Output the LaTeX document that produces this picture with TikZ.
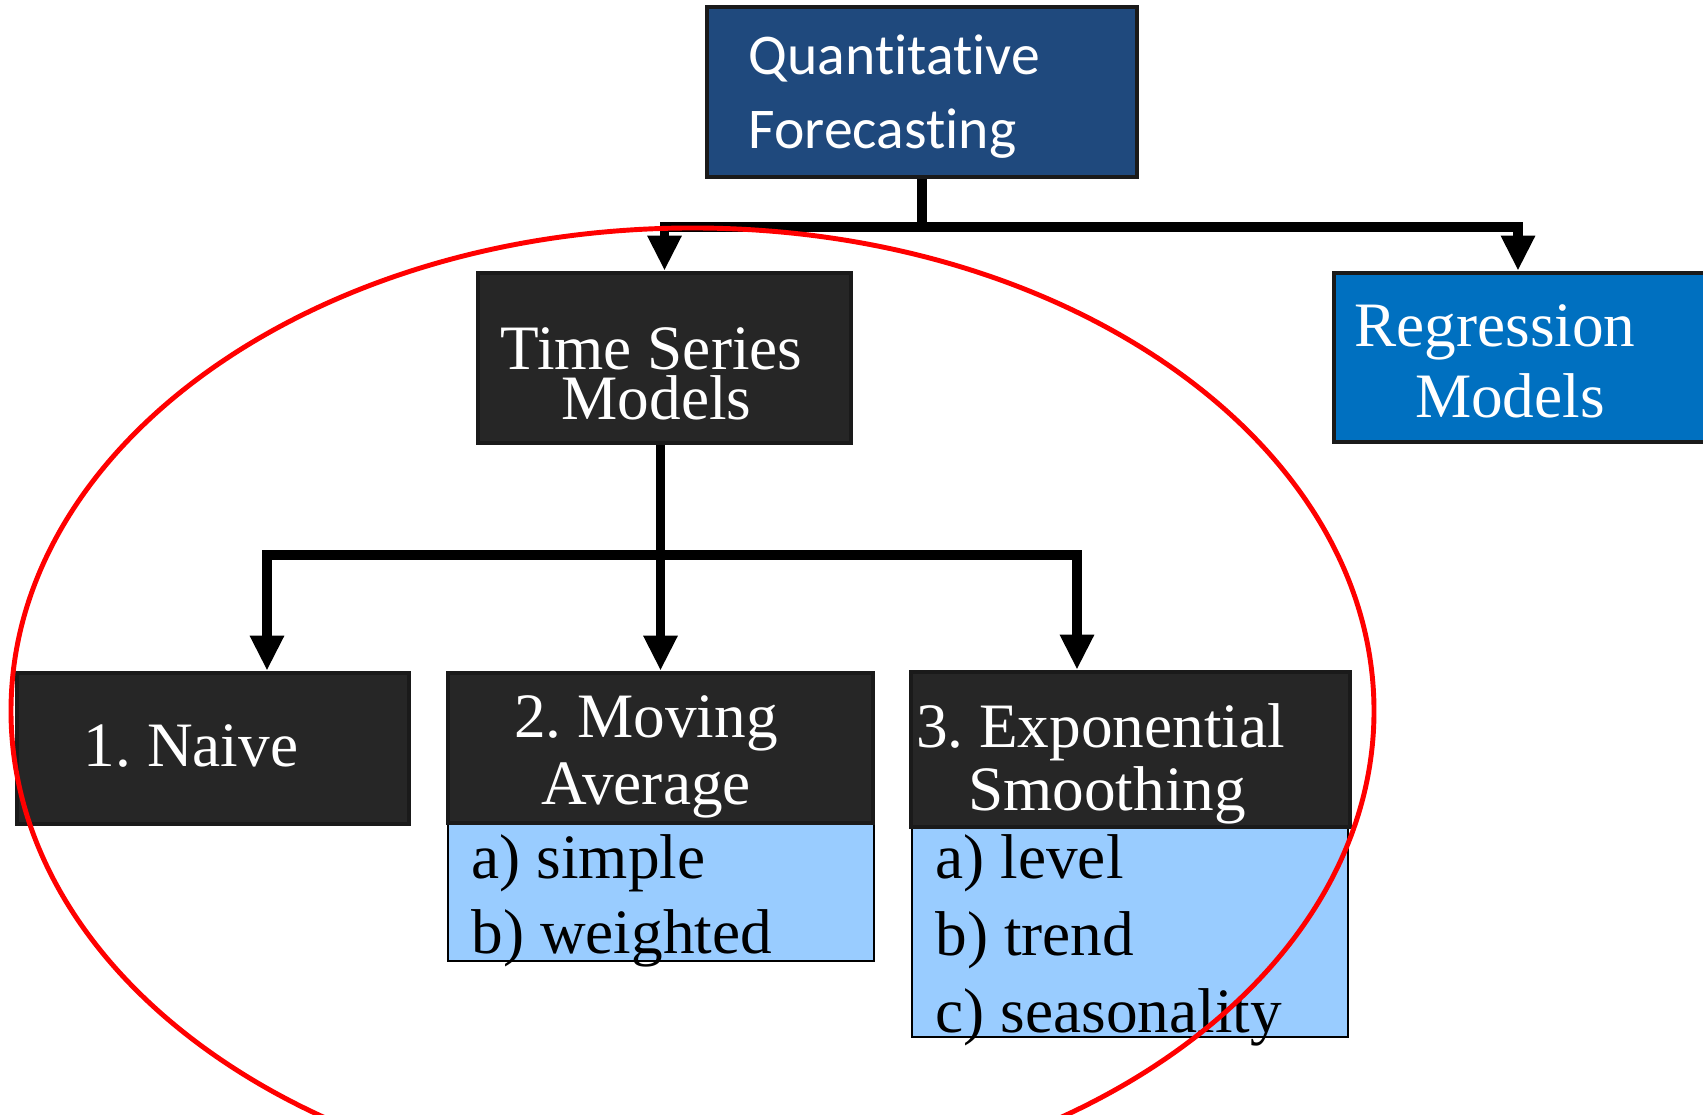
\documentclass[tikz,border=0pt]{standalone}
\usepackage{fontspec}
\setmainfont{Liberation Serif}
\newfontfamily\qffont[Ligatures=NoCommon]{Carlito}
\usetikzlibrary{arrows.meta}
\frenchspacing
\definecolor{qfblue}{RGB}{31,73,125}
\definecolor{tsgray}{RGB}{38,38,38}
\definecolor{rgblue}{RGB}{0,112,192}
\definecolor{listblue}{RGB}{153,204,255}
\definecolor{boxedge}{RGB}{26,26,26}
\tikzset{
  box/.style={draw=boxedge, line width=1.3pt, inner sep=0pt},
  listbox/.style={draw=black, line width=0.8pt, fill=listblue, inner sep=0pt},
  boxtext/.style={text=white, inner sep=0pt, align=center},
  listtext/.style={inner sep=0pt, align=left, anchor=west},
  conn/.style={line width=2.8pt},
  link/.style={line width=2.8pt, -{Triangle[length=0.35cm,width=0.32cm]}},
  fork/.style={line width=2.8pt, {Triangle[length=0.35cm,width=0.32cm]}-{Triangle[length=0.35cm,width=0.32cm]}}
}
\begin{document}
\begin{tikzpicture}
  \useasboundingbox (0,0) rectangle (17.03,11.15);
  %Top level
  \node[box, fill=qfblue, minimum width=4.30cm, minimum height=1.70cm] (qf) at (9.22,10.23) {};
  \node[boxtext, anchor=west, align=left, font=\qffont\fontsize{16.4}{21}\selectfont] (qftext) at ([shift={(-1.74,-0.05)}]qf) {Quantitative\\Forecasting};
  %Second level
  \node[box, fill=tsgray, minimum width=3.73cm, minimum height=1.70cm] (ts) at (6.645,7.57) {};
  \node[boxtext, font=\fontsize{18}{14.2}\selectfont] (tstext) at ([shift={(-0.13,-0.155)}]ts) {Time Series\\\hspace*{0.1cm}Models};
  \node[box, fill=rgblue, minimum width=3.78cm, minimum height=1.69cm] (rg) at (15.23,7.575) {};
  \node[boxtext, font=\fontsize{18}{20.2}\selectfont] (rgtext) at ([shift={(-0.28,-0.035)}]rg) {Regression\\\hspace*{0.3cm}Models};
  %Time series models
  \node[box, fill=tsgray, minimum width=3.92cm, minimum height=1.51cm] (nv) at (2.13,3.665) {};
  \node[boxtext, font=\fontsize{18}{18}\selectfont] (nvtext) at ([shift={(-0.22,0.02)}]nv) {1. Naive};
  \node[listbox, minimum width=4.26cm, minimum height=1.38cm] (mal) at (6.61,2.23) {};
  \node[box, fill=tsgray, minimum width=4.25cm, minimum height=1.50cm] (ma) at (6.605,3.67) {};
  \node[boxtext, font=\fontsize{18}{19.1}\selectfont] (matext) at ([shift={(-0.145,-0.09)}]ma) {2. Moving\\Average};
  \node[listtext, font=\fontsize{18}{21.3}\selectfont] (maltext) at ([shift={(-1.90,-0.09)}]mal) {a) simple\\b) weighted};
  \node[listbox, minimum width=4.36cm, minimum height=2.10cm] (esl) at (11.30,1.83) {};
  \node[box, fill=tsgray, minimum width=4.39cm, minimum height=1.55cm] (es) at (11.305,3.655) {};
  \node[boxtext, font=\fontsize{18}{17.9}\selectfont] (estext) at ([shift={(-0.30,-0.145)}]es) {3. Exponential\\\hspace*{0.13cm}Smoothing};
  \node[listtext, font=\fontsize{18}{21.9}\selectfont] (esltext) at ([shift={(-1.95,-0.085)}]esl) {a) level\\b) trend\\c) seasonality};
  %Links from the top
  \coordinate (qfj) at ([yshift=-0.48cm]qf.south);
  \draw[conn] (qf.south) -- (qfj);
  \draw[fork] (ts.north) |- (qfj) -| ([xshift=-0.05cm]rg.north);
  %Links from time series
  \draw[link] (ma.north |- ts.south) -- (ma.north);
  \path (ma.north |- ts.south) ++(0,-1.10) coordinate (tsj);
  \draw[fork] ([xshift=0.54cm]nv.north) |- (tsj) -| ([xshift=-0.535cm]es.north);
  %Red ring
  \draw[red, line width=1.4pt] (6.925,4.04) ellipse [x radius=6.815, y radius=4.83];
\end{tikzpicture}
\end{document}
